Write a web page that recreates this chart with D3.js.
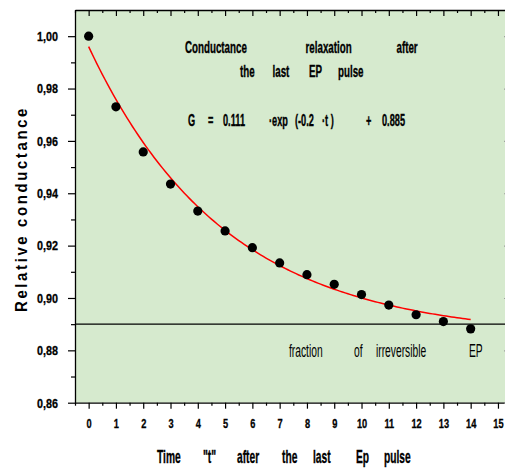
<!DOCTYPE html>
<html>
<head>
<meta charset="utf-8">
<script src="https://cdn.jsdelivr.net/npm/d3@7"></script>
<style>
  html, body { margin: 0; padding: 0; background: #ffffff; }
  svg { display: block; }
  .narrow { font-family: "Liberation Sans Narrow", "Arial Narrow", "Liberation Sans", Arial, sans-serif; }
</style>
</head>
<body>
<svg id="chart" width="505" height="468"></svg>
<script>
// ---- data ----
const times = [0, 1, 2, 3, 4, 5, 6, 7, 8, 9, 10, 11, 12, 13, 14];
const conductance = [1.000, 0.973, 0.9558, 0.9435, 0.9332, 0.9256, 0.9192, 0.9134, 0.9089, 0.9052, 0.9013, 0.8973, 0.8936, 0.8910, 0.8882];
// fit: G = A * exp(-k t) + C
const fitA = 0.111, fitK = 0.2, fitC = 0.885;
const fitRange = [0, 14];
const irreversibleLevel = 0.89;
const xTicks = [0, 1, 2, 3, 4, 5, 6, 7, 8, 9, 10, 11, 12, 13, 14, 15];
const yTicks = [0.86, 0.88, 0.90, 0.92, 0.94, 0.96, 0.98, 1.00];
const yTitle = "Relative conductance";
const xTitleWords = ["Time", "\"t\"", "after", "the", "last", "Ep", "pulse"];
const noteLine1 = ["Conductance", "relaxation", "after"];
const noteLine2 = ["the", "last", "EP", "pulse"];
const noteLine3 = ["G", "=", "0.111", "\u00b7exp", "(-0.2", "\u00b7t )", "+", "0.885"];
const noteLine4 = ["fraction", "of", "irreversible", "EP"];

// ---- layout ----
const svg = d3.select("#chart");
const plot = { left: 75, right: 511.6, top: 10, bottom: 402.7 };
const x = d3.scaleLinear().domain([-0.5, 15.5]).range([plot.left, plot.right]);
const y = d3.scaleLinear().domain([0.86, 1.01]).range([plot.bottom, plot.top]);

svg.append("rect").attr("x", plot.left).attr("y", plot.top)
  .attr("width", plot.right - plot.left).attr("height", plot.bottom - plot.top)
  .attr("fill", "#d6eace");

const fmt = d => d3.format(".2f")(d).replace(".", ",");
const xMinor = d3.range(-0.5, 15.51, 1);
const yMinor = d3.range(0.87, 1.005, 0.02);

function styleAxis(g, color) {
  g.selectAll("path.domain").attr("stroke", color).attr("stroke-width", 1.3);
  g.selectAll(".tick line").attr("stroke", color).attr("stroke-width", 1.2);
}

// minor ticks
svg.append("g").attr("transform", `translate(0,${plot.bottom})`)
  .call(d3.axisBottom(x).tickValues(xMinor).tickSize(3).tickFormat(""))
  .call(g => { g.select(".domain").remove(); styleAxis(g, "#000"); });
svg.append("g").attr("transform", `translate(0,${plot.top})`)
  .call(d3.axisBottom(x).tickValues(xMinor).tickSize(3).tickFormat(""))
  .call(g => { g.select(".domain").remove(); styleAxis(g, "#000"); });
svg.append("g").attr("transform", `translate(${plot.left},0)`)
  .call(d3.axisLeft(y).tickValues(yMinor).tickSize(4).tickFormat(""))
  .call(g => { g.select(".domain").remove(); styleAxis(g, "#000"); });

// bottom axis
const xAxisG = svg.append("g").attr("transform", `translate(0,${plot.bottom})`)
  .call(d3.axisBottom(x).tickValues(xTicks).tickSize(6).tickSizeOuter(0).tickPadding(10).tickFormat(d3.format("d")));
styleAxis(xAxisG, "#000");
xAxisG.selectAll("text").attr("class", "narrow").attr("font-size", 12.5).attr("font-weight", "bold")
  .attr("fill", "#000").attr("stroke", "#000").attr("stroke-width", 0.3)
  .attr("transform", "scale(0.74,1)");

// top axis (ticks inward)
const topG = svg.append("g").attr("transform", `translate(0,${plot.top})`)
  .call(d3.axisBottom(x).tickValues(xTicks).tickSize(6).tickSizeOuter(0).tickFormat(""));
styleAxis(topG, "#000");

// left axis
const yAxisG = svg.append("g").attr("transform", `translate(${plot.left},0)`)
  .call(d3.axisLeft(y).tickValues(yTicks).tickSize(7).tickSizeOuter(0).tickPadding(10).tickFormat(fmt));
styleAxis(yAxisG, "#000");
yAxisG.selectAll("text").attr("class", "narrow").attr("font-size", 13.5).attr("font-weight", "bold")
  .attr("fill", "#000").attr("stroke", "#000").attr("stroke-width", 0.3)
  .attr("x", 0).attr("transform", "translate(-17,0) scale(0.8,1)");

// right axis (ticks inward, mostly outside view)
const rightG = svg.append("g").attr("transform", `translate(${plot.right},0)`)
  .call(d3.axisRight(y).tickValues(yTicks).tickSize(-7.5).tickSizeOuter(0).tickFormat(""));
styleAxis(rightG, "#999");

// horizontal level line
svg.append("line")
  .attr("x1", plot.left).attr("x2", plot.right)
  .attr("y1", y(irreversibleLevel)).attr("y2", y(irreversibleLevel))
  .attr("stroke", "#000").attr("stroke-width", 1.2);

// fit curve
const fitT = d3.range(fitRange[0], fitRange[1] + 0.001, 0.1);
const line = d3.line().x(t => x(t)).y(t => y(fitA * Math.exp(-fitK * t) + fitC));
svg.append("path").datum(fitT).attr("d", line)
  .attr("fill", "none").attr("stroke", "#ff0000").attr("stroke-width", 1.5);

// data points
svg.append("g").selectAll("circle").data(times).join("circle")
  .attr("cx", (t) => x(t)).attr("cy", (t, i) => y(conductance[i]))
  .attr("r", 4.6).attr("fill", "#000");

// word-spaced text helper
function words(list, xs, baseline, size, weight, sx, sw) {
  const t = svg.append("text").attr("class", "narrow")
    .attr("transform", `translate(0,${baseline}) scale(${sx},1)`)
    .attr("font-size", size).attr("font-weight", weight).attr("fill", "#000")
    .attr("stroke", sw ? "#000" : "none").attr("stroke-width", sw || 0);
  list.forEach((w, i) => t.append("tspan").attr("x", xs[i] / sx).attr("y", 0).text(w + (i < list.length - 1 ? " " : "")));
  return t;
}

words(xTitleWords, [157, 203, 237, 282, 313, 356, 384], 462.5, 17.5, "bold", 0.585, 0.35);
words(noteLine1, [185, 305.5, 396.5], 52.7, 17, "bold", 0.575, 0.35);
words(noteLine2, [240, 272.5, 309, 338], 77.2, 17, "bold", 0.575, 0.35);
words(noteLine3, [188, 208, 223, 269, 295, 322, 366, 382], 126, 16, "bold", 0.575, 0.35);
words(noteLine4, [289, 354, 376, 469], 356.5, 18.5, "normal", 0.555, 0);

// y title
const yt = svg.append("text").attr("class", "narrow")
  .attr("transform", `translate(26.5,209) rotate(-90)`)
  .attr("text-anchor", "middle")
  .attr("font-size", 17).attr("font-weight", "bold")
  .attr("letter-spacing", 3)
  .attr("fill", "#000")
  .text(yTitle);
yt.attr("textLength", 206).attr("lengthAdjust", "spacingAndGlyphs");
</script>
</body>
</html>
